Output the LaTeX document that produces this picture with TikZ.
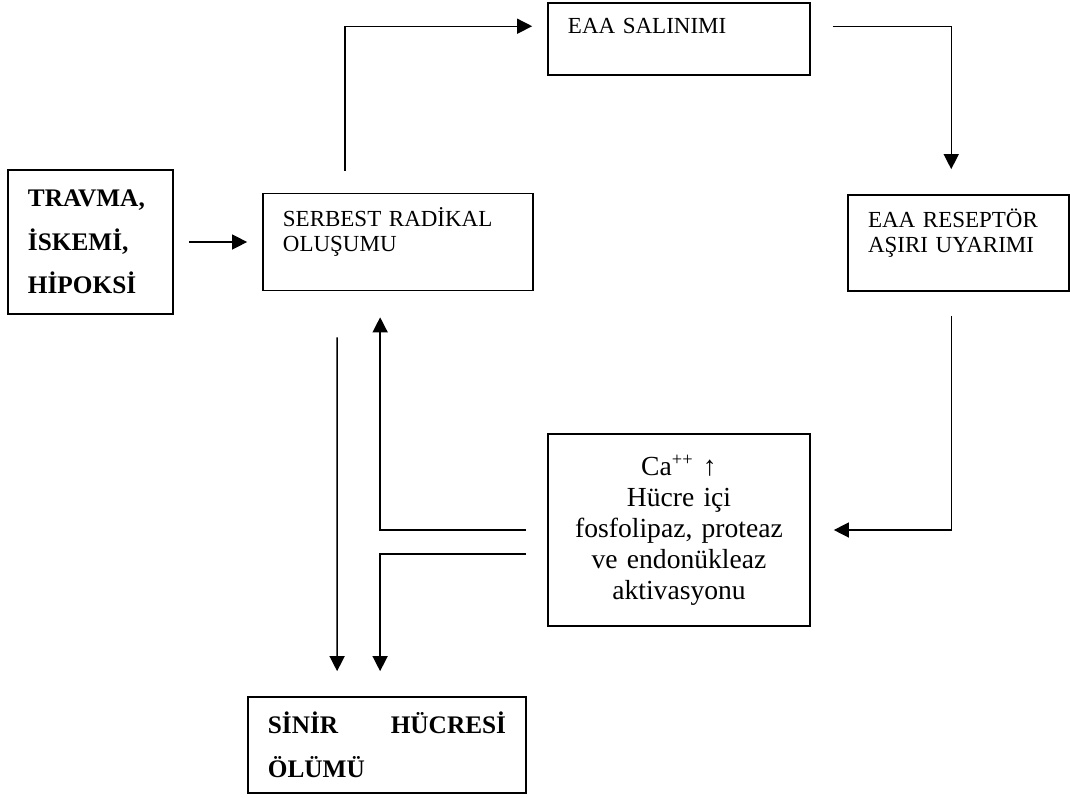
\documentclass[tikz,border=0pt]{standalone}
\usepackage{fontspec}
\setmainfont{Liberation Serif}
\usetikzlibrary{arrows.meta, calc}
\tikzset{
  box/.style={
    rectangle, draw, line width=0.7pt,
    text width=#1, align=left,
    inner xsep=8.7pt, inner ysep=0pt,
    font=\fontsize{10}{11}\selectfont
  },
  box/.default=100pt,
  bbox/.style={box=#1, font=\fontsize{11}{19}\selectfont\bfseries},
  arr/.style={-{Triangle[length=6.5pt, width=6.5pt]}, line width=0.6pt},
}
\begin{document}
\begin{tikzpicture}[x=0.435pt, y=-0.435pt]
\useasboundingbox (0,0) rectangle (1070,797);

% Boxes at fixed coordinates (pixel grid of the page)
\node[bbox=54.4pt, minimum height=62.6pt] at (90.5,242) (travma) {
  TRAVMA,\\
  İSKEMİ,\\
  HİPOKSİ};

\node[box=100.1pt, minimum height=42.2pt] at (398,242) (serbest) {
  SERBEST RADİKAL\\
  OLUŞUMU\\
  \mbox{}};

\node[box=96.6pt, minimum height=31.3pt] at (679,39) (salinim) {
  EAA SALINIMI\\
  \mbox{}};

\node[box=78.7pt, minimum height=41.8pt] at (958.5,243) (reseptor) {
  EAA RESEPTÖR\\
  AŞIRI UYARIMI\\
  \mbox{}};

\node[box=96.6pt, minimum height=83.5pt, align=center,
      font=\fontsize{12}{13.5}\selectfont] at (679,530) (ca) {
  Ca\textsuperscript{++} ↑\\
  Hücre içi\\
  fosfolipaz, proteaz\\
  ve endonükleaz\\
  aktivasyonu\\[6pt]};

\node[bbox=103.6pt, minimum height=41.8pt] at (387,745) (sinir) {
  SİNİR\hfill HÜCRESİ\\
  ÖLÜMÜ};

% Cycle
\draw[arr] ($(travma.east)+(15,0)$) -- ($(serbest.west)+(-15,0)$);
\draw[arr] ($(serbest.north west)+(83,-22)$) |- ($(salinim.north west)+(-15,24)$);
\draw[arr] ($(salinim.north east)+(22,24)$) -| ($(reseptor.north west)+(104,-25)$);
\draw[arr] ($(reseptor.south west)+(104,24)$) |- ($(ca.east)+(23,0)$);
\draw[arr] ($(ca.west)+(-21,0)$) -| ($(serbest.south west)+(118,26)$);

% Towards cell death
\draw[arr] ($(ca.west)+(-21,24)$) -| ($(sinir.north west)+(133,-25)$);
\draw[arr] ($(serbest.south west)+(75,46)$) -- ($(sinir.north west)+(90,-25)$);

\end{tikzpicture}
\end{document}
